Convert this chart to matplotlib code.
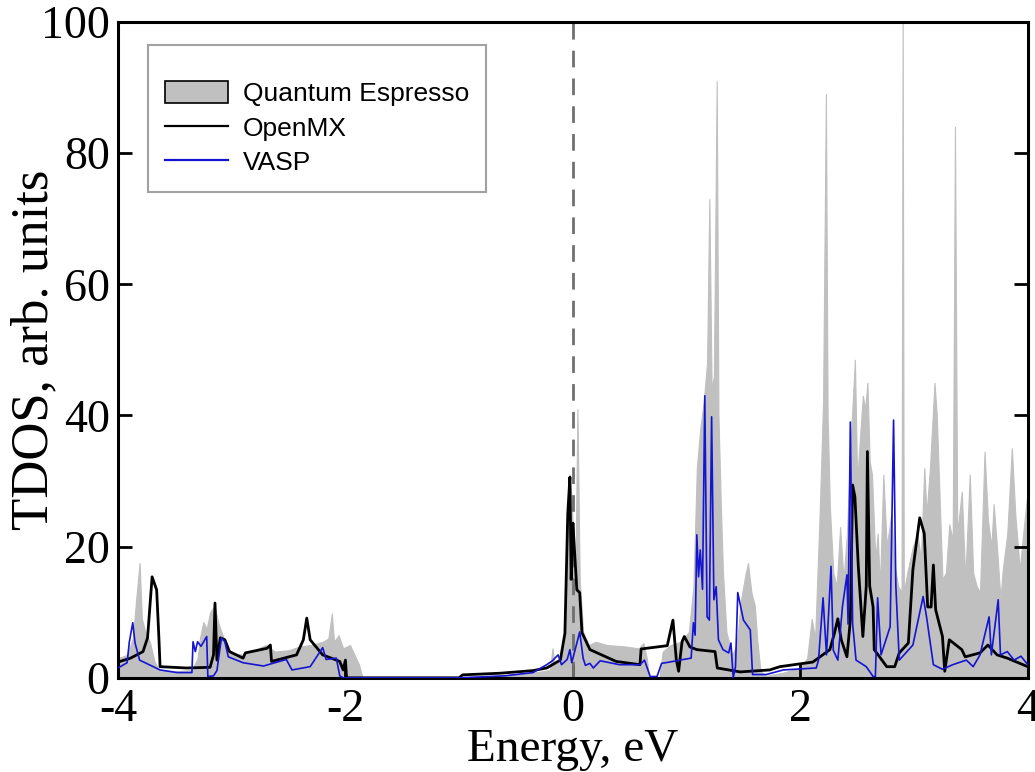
import numpy as np
import matplotlib
matplotlib.use("Agg")
import matplotlib.pyplot as plt
from matplotlib.patches import Patch
from matplotlib.lines import Line2D

# Quantum Espresso TDOS (grey filled)
qe_energy = [-4.00, -3.92, -3.87, -3.84, -3.81, -3.79, -3.76, -3.72, -3.68, -3.64,
             -3.50, -3.35, -3.30, -3.28, -3.25, -3.22, -3.19, -3.15, -3.12, -3.09,
             -3.05, -3.00, -2.90, -2.80, -2.70, -2.62, -2.50, -2.40, -2.30, -2.20,
             -2.15, -2.12, -2.10, -2.06, -2.02, -1.96, -1.92, -1.88, -1.85, -1.00,
             -0.60, -0.30, -0.20, -0.18, -0.16, -0.10, -0.06, -0.03, -0.01, 0.02,
             0.04, 0.06, 0.09, 0.14, 0.20, 0.30, 0.45, 0.58, 0.62, 0.65,
             0.67, 0.76, 0.79, 0.86, 0.95, 1.02, 1.06, 1.09, 1.12, 1.15,
             1.18, 1.20, 1.22, 1.24, 1.265, 1.28, 1.30, 1.32, 1.35, 1.40,
             1.44, 1.48, 1.52, 1.54, 1.57, 1.60, 1.62, 1.65, 1.70, 1.85,
             2.00, 2.06, 2.10, 2.13, 2.17, 2.20, 2.225, 2.24, 2.26, 2.29,
             2.32, 2.35, 2.38, 2.41, 2.44, 2.48, 2.50, 2.53, 2.55, 2.57,
             2.59, 2.61, 2.63, 2.66, 2.68, 2.70, 2.73, 2.76, 2.80, 2.83,
             2.86, 2.89, 2.90, 2.91, 2.94, 2.99, 3.03, 3.06, 3.09, 3.11,
             3.14, 3.18, 3.20, 3.23, 3.25, 3.28, 3.31, 3.34, 3.36, 3.38,
             3.42, 3.45, 3.49, 3.52, 3.55, 3.58, 3.62, 3.65, 3.68, 3.70,
             3.73, 3.76, 3.78, 3.82, 3.86, 3.89, 3.93, 3.96, 4.00]
qe_tdos = [3.0, 3.5, 6.0, 12.0, 17.5, 9.0, 7.0, 5.5, 2.5, 1.2,
           1.0, 1.2, 3.0, 6.0, 8.5, 7.5, 10.0, 11.0, 8.5, 7.0,
           5.0, 3.8, 3.5, 4.2, 5.0, 4.0, 4.2, 4.8, 5.0, 5.5,
           6.0, 9.8, 5.5, 6.5, 4.5, 5.0, 3.5, 2.0, 0.0, 0.0,
           0.4, 0.9, 1.2, 4.5, 2.0, 2.5, 8.0, 31.0, 27.0, 12.0,
           41.0, 15.0, 7.0, 5.0, 5.5, 5.0, 4.8, 4.5, 5.3, 3.0,
           0.0, 0.0, 4.0, 5.0, 5.5, 7.0, 14.0, 32.0, 38.0, 42.0,
           48.0, 73.0, 44.0, 46.0, 91.0, 40.0, 27.0, 16.0, 7.0, 3.5,
           5.0, 12.0, 16.0, 17.5, 13.0, 11.0, 6.0, 1.0, 0.3, 0.8,
           1.5, 3.0, 9.0, 6.0, 25.0, 42.0, 89.0, 40.0, 26.0, 16.0,
           14.0, 23.0, 15.0, 22.0, 35.0, 48.5, 30.0, 38.0, 43.0, 41.0,
           45.0, 33.0, 31.0, 18.0, 22.0, 14.0, 31.0, 20.0, 25.0, 17.0,
           14.0, 13.0, 101.0, 13.0, 16.0, 20.0, 22.0, 18.0, 32.0, 25.0,
           32.0, 45.0, 40.0, 25.0, 15.0, 16.0, 23.4, 21.0, 84.0, 22.0,
           28.4, 15.0, 31.0, 16.0, 14.0, 13.0, 34.5, 24.0, 20.0, 26.5,
           19.7, 12.0, 16.5, 22.0, 35.0, 25.0, 16.5, 22.0, 28.6]

# OpenMX TDOS (black line)
omx_energy = [-4.00, -3.89, -3.78, -3.74, -3.70, -3.66, -3.64, -3.63, -3.40, -3.19,
              -3.16, -3.147, -3.13, -3.10, -3.06, -3.02, -2.90, -2.88, -2.69, -2.66,
              -2.65, -2.43, -2.37, -2.34, -2.31, -2.20, -2.05, -2.02, -2.00, -1.99,
              -1.00, -0.97, -0.64, -0.35, -0.23, -0.11, -0.07, -0.045, -0.026, -0.015,
              0.00, 0.035, 0.06, 0.08, 0.15, 0.38, 0.59, 0.60, 0.83, 0.88,
              0.91, 0.93, 0.96, 0.98, 1.03, 1.09, 1.25, 1.27, 1.47, 1.73,
              1.82, 2.11, 2.26, 2.30, 2.33, 2.36, 2.41, 2.44, 2.46, 2.48,
              2.51, 2.55, 2.58, 2.59, 2.61, 2.64, 2.65, 2.76, 2.83, 2.87,
              2.95, 2.99, 3.05, 3.09, 3.12, 3.15, 3.17, 3.19, 3.25, 3.27,
              3.31, 3.42, 3.45, 3.58, 3.65, 3.73, 3.82, 4.00]
omx_tdos = [2.4, 3.0, 4.0, 6.1, 15.4, 13.4, 6.0, 1.7, 1.5, 1.6,
            3.5, 11.4, 2.7, 6.1, 5.8, 4.0, 3.0, 3.8, 4.5, 5.0,
            2.5, 3.5, 5.8, 9.1, 5.8, 3.5, 2.5, 1.2, 2.7, 0.0,
            0.0, 0.45, 0.7, 1.1, 1.5, 2.7, 6.8, 25.0, 30.6, 15.0,
            23.6, 13.4, 13.0, 6.9, 4.3, 2.5, 2.0, 4.4, 4.9, 8.8,
            2.7, 1.0, 5.5, 6.3, 4.7, 4.3, 4.0, 1.5, 0.9, 1.2,
            1.7, 2.4, 4.3, 6.8, 9.0, 5.8, 3.2, 8.8, 29.4, 27.6,
            17.0, 6.3, 14.0, 34.5, 14.0, 10.8, 4.3, 1.7, 1.7, 3.8,
            5.3, 16.5, 24.4, 22.0, 10.8, 10.8, 17.2, 10.4, 6.3, 1.0,
            5.8, 4.3, 3.2, 3.8, 5.0, 3.5, 3.0, 1.7]

# VASP TDOS (blue line)
vasp_energy = [-4.00, -3.92, -3.90, -3.87, -3.85, -3.81, -3.63, -3.48, -3.35, -3.34,
               -3.32, -3.30, -3.27, -3.22, -3.21, -3.16, -3.13, -3.09, -3.06, -3.03,
               -2.90, -2.72, -2.52, -2.47, -2.31, -2.20, -2.17, -2.08, -2.05, -2.02,
               -1.00, -0.60, -0.35, -0.23, -0.18, -0.13, -0.10, -0.05, -0.026, -0.01,
               0.035, 0.06, 0.09, 0.11, 0.15, 0.18, 0.24, 0.41, 0.59, 0.63,
               0.68, 0.74, 0.78, 0.85, 0.94, 1.04, 1.06, 1.075, 1.09, 1.105,
               1.12, 1.14, 1.16, 1.18, 1.20, 1.22, 1.24, 1.26, 1.28, 1.32,
               1.37, 1.39, 1.41, 1.43, 1.45, 1.50, 1.56, 1.58, 1.70, 1.85,
               2.14, 2.16, 2.20, 2.23, 2.27, 2.29, 2.33, 2.37, 2.41, 2.42,
               2.44, 2.46, 2.49, 2.58, 2.64, 2.66, 2.68, 2.71, 2.79, 2.82,
               2.84, 2.87, 2.99, 3.08, 3.11, 3.17, 3.25, 3.34, 3.46, 3.52,
               3.58, 3.66, 3.68, 3.74, 3.76, 3.82, 3.88, 3.94, 4.00]
vasp_tdos = [1.5, 2.3, 5.5, 8.4, 5.3, 2.7, 1.2, 0.8, 0.8, 5.5,
             4.0, 5.5, 4.8, 6.3, 0.2, 0.3, 1.1, 6.1, 5.5, 3.2,
             2.3, 1.8, 2.8, 1.2, 1.7, 4.6, 2.8, 3.0, 0.3, 0.0,
             0.0, 0.3, 0.8, 2.0, 2.6, 3.5, 2.0, 2.8, 4.3, 2.3,
             5.3, 7.0, 3.0, 1.9, 2.2, 1.5, 2.6, 2.0, 2.0, 2.7,
             0.2, 0.2, 2.2, 2.4, 2.7, 3.0, 8.4, 6.5, 21.8, 15.4,
             19.5, 13.5, 43.0, 9.3, 8.8, 39.8, 11.9, 13.9, 5.8, 4.3,
             3.8, 5.3, 0.0, 1.7, 13.0, 8.8, 7.3, 0.5, 0.5, 1.2,
             1.5, 2.7, 12.2, 3.5, 17.0, 4.2, 2.7, 10.8, 15.7, 8.2,
             39.0, 8.2, 2.7, 1.7, 0.2, 0.2, 12.2, 3.5, 7.8, 39.3,
             14.0, 2.7, 5.0, 12.4, 9.3, 2.0, 1.3, 2.0, 2.7, 1.7,
             3.5, 9.3, 3.5, 11.9, 3.5, 4.0, 2.7, 3.3, 2.0]

x_ticks = [-4, -2, 0, 2, 4]
y_ticks = [0, 20, 40, 60, 80, 100]

fig = plt.figure(figsize=(10.35, 7.72), dpi=100)
ax = fig.add_axes([0.114, 0.122, 0.879, 0.8495])

ax.fill_between(qe_energy, qe_tdos, 0, color='#c0c0c0', linewidth=0.8, zorder=1)
ax.axvline(0, color='#707070', linestyle=(0, (6, 4)), linewidth=2, zorder=2)
ax.plot(omx_energy, omx_tdos, color='black', linewidth=2.0, zorder=3)
ax.plot(vasp_energy, vasp_tdos, color='#1414d2', linewidth=1.2, zorder=4)

ax.set_xlim(-4, 4)
ax.set_ylim(0, 100)
ax.set_xticks(x_ticks)
ax.set_yticks(y_ticks)
ax.set_xticklabels([str(v) for v in x_ticks])
ax.set_yticklabels([str(v) for v in y_ticks])

serif = 'Liberation Serif'
for lab in ax.get_xticklabels() + ax.get_yticklabels():
    lab.set_fontfamily(serif)
    lab.set_fontsize(33)
ax.tick_params(direction='in', length=10, width=2, right=True, top=False, pad=6)
ax.tick_params(axis='x', pad=8)
for sp in ax.spines.values():
    sp.set_linewidth(2.2)

ax.set_xlabel('Energy, eV', fontfamily=serif, fontsize=34, labelpad=-2)
ax.set_ylabel('TDOS, arb. units', fontfamily=serif, fontsize=38)
ax.yaxis.set_label_coords(-0.066, 0.5)

handles = [Patch(facecolor='#c0c0c0', edgecolor='black', linewidth=1.2),
           Line2D([], [], color='black', linewidth=1.6),
           Line2D([], [], color='#1414d2', linewidth=1.6)]
leg = ax.legend(handles, ['Quantum Espresso', 'OpenMX', 'VASP'],
                loc='upper left', bbox_to_anchor=(0.033, 0.965), borderaxespad=0,
                prop={'family': 'Liberation Sans', 'size': 19},
                title=' ', title_fontsize=7,
                fancybox=False, frameon=True, handlelength=2.4, handleheight=0.9,
                borderpad=0.65, labelspacing=0.35, handletextpad=0.55)
leg.get_frame().set_edgecolor('#8a8a8a')
leg.get_frame().set_linewidth(1.5)

fig.savefig('out.png', dpi=100)
